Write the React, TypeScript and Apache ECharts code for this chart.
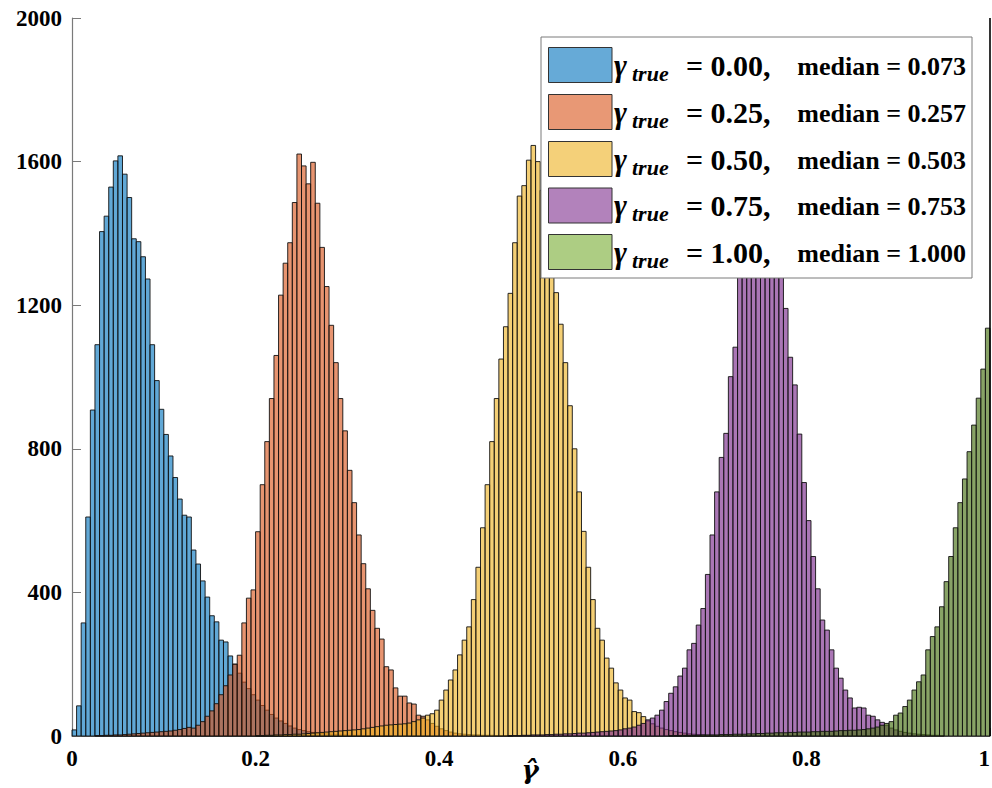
import React, { useEffect, useRef } from 'react';
import * as echarts from 'echarts';

const BIN_WIDTH = 0.005;
const X_MIN = 0;
const X_MAX = 1;
const X_STEP = 0.2;
const Y_MIN = 0;
const Y_MAX = 2000;
const Y_STEP = 400;
const X_AXIS_TITLE = 'γ̂';

const gammaTrue = ['0.00', '0.25', '0.50', '0.75', '1.00'];
const medians = ['0.073', '0.257', '0.503', '0.753', '1.000'];

// index of first bin (bin k spans [k*0.005, (k+1)*0.005])
const blueStart = 0;
const blueCounts = [
  17, 84, 315, 610, 908,
  1090, 1405, 1448, 1529, 1602,
  1616, 1565, 1500, 1385, 1377,
  1335, 1273, 1090, 990, 910,
  840, 780, 720, 660, 615,
  610, 518, 479, 432, 387,
  335, 318, 267, 262, 223,
  200, 175, 150, 132, 115,
  100, 85, 72, 60, 50,
  42, 35, 28, 22, 18,
  15, 12, 10, 8, 7,
  6, 5, 4, 3, 3,
  2, 2, 2, 1, 1,
  1, 1, 1, 1, 1,
];

const orangeStart = 5;
const orangeCounts = [
  1, 1, 2, 2, 3,
  3, 4, 5, 6, 7,
  8, 9, 10, 11, 12,
  13, 14, 16, 18, 21,
  24, 22, 30, 40, 55,
  70, 90, 115, 140, 170,
  200, 225, 315, 384, 407,
  569, 700, 820, 940, 1060,
  1228, 1317, 1374, 1486, 1621,
  1588, 1538, 1598, 1484, 1361,
  1252, 1144, 1040, 940, 850,
  740, 650, 560, 480, 410,
  350, 300, 270, 193, 184,
  134, 111, 111, 92, 89,
  58, 55, 45, 35, 27,
  20, 15, 11, 8, 6,
  5, 4, 3, 3, 2,
  2, 2, 1, 1, 1, 1,
];

const yellowStart = 40;
const yellowCounts = [
  1, 1, 2, 2, 3,
  3, 4, 4, 5, 5,
  6, 7, 8, 9, 10,
  11, 12, 13, 14, 15,
  16, 17, 18, 20, 22,
  24, 26, 28, 30, 31,
  32, 33, 34, 36, 40,
  45, 50, 58, 62, 72,
  100, 128, 156, 184, 226,
  267, 304, 380, 470, 580,
  700, 820, 940, 1050, 1140,
  1233, 1374, 1504, 1533, 1604,
  1645, 1600, 1520, 1430, 1330,
  1235, 1147, 1040, 920, 800,
  680, 570, 470, 380, 300,
  267, 217, 189, 148, 128,
  106, 100, 68, 65, 54,
  42, 34, 27, 22, 18,
  15, 12, 10, 8, 6,
  5, 4, 3, 2, 2,
  1,
];

const purpleStart = 95;
const purpleCounts = [
  1, 1, 1, 2, 2,
  3, 3, 3, 4, 4,
  5, 5, 6, 6, 7,
  8, 8, 9, 10, 11,
  12, 13, 14, 15, 17,
  20, 22, 25, 30, 35,
  45, 50, 58, 72, 96,
  119, 137, 167, 189, 240,
  258, 309, 355, 450, 560,
  680, 776, 843, 1001, 1083,
  1300, 1420, 1500, 1560, 1610,
  1640, 1600, 1540, 1460, 1330,
  1191, 1055, 978, 841, 706,
  600, 500, 410, 323, 295,
  240, 189, 161, 128, 106,
  78, 80, 78, 58, 55,
  45, 38, 30, 22, 17,
  13, 10, 8, 6, 5,
  4, 3, 2, 2, 1,
];

const greenStart = 130;
const greenCounts = [
  1, 1, 1, 2, 2,
  2, 2, 3, 3, 3,
  3, 4, 4, 4, 5,
  5, 5, 6, 6, 7,
  7, 8, 8, 9, 9,
  9, 10, 10, 11, 11,
  11, 12, 12, 13, 13,
  13, 14, 15, 15, 16,
  16, 17, 18, 20, 22,
  25, 30, 35, 40, 58,
  64, 82, 100, 128, 151,
  170, 240, 277, 304, 360,
  430, 500, 580, 650, 716,
  792, 866, 941, 1022, 1136,
  2600,
];

const seriesStarts = [blueStart, orangeStart, yellowStart, purpleStart, greenStart];
const seriesCounts = [blueCounts, orangeCounts, yellowCounts, purpleCounts, greenCounts];
// fill colours of the bars in the plot
const barColors = [
  'rgba(0,114,189,0.62)',
  'rgba(217,83,25,0.62)',
  'rgba(237,177,32,0.62)',
  'rgba(126,47,142,0.66)',
  'rgba(80,120,30,0.68)',
];
// fill colours of the legend swatches
const swatchColors = [
  'rgba(0,114,189,0.6)',
  'rgba(217,83,25,0.6)',
  'rgba(237,177,32,0.6)',
  'rgba(126,47,142,0.6)',
  'rgba(119,172,48,0.6)',
];

const SERIF = '"Liberation Serif", "Times New Roman", serif';
const MATH = '"DejaVu Serif", "Liberation Serif", serif';

function buildBins(start: number, counts: number[]) {
  return counts.map((c, i) => {
    const k = start + i;
    return [
      Math.round(k * BIN_WIDTH * 1e6) / 1e6,
      Math.round((k + 1) * BIN_WIDTH * 1e6) / 1e6,
      c,
    ];
  });
}

function makeRenderItem(color: string) {
  return (params: any, api: any) => {
    const x0 = api.value(0);
    const x1 = api.value(1);
    const v = api.value(2);
    const pBase = api.coord([x0, 0]);
    const pTop = api.coord([x1, v]);
    const cs = params.coordSys;
    const left = Math.max(pBase[0], cs.x);
    const right = Math.min(pTop[0], cs.x + cs.width);
    const top = Math.max(pTop[1], cs.y);
    const bottom = pBase[1];
    if (right < left - 0.01) return null;
    if (right - left < 0.5) {
      return {
        type: 'line',
        shape: { x1: left, y1: top, x2: left, y2: bottom },
        style: { stroke: '#000', lineWidth: 1.6 },
      };
    }
    return {
      type: 'rect',
      shape: { x: left, y: top, width: right - left, height: bottom - top },
      style: { fill: color, stroke: '#111', lineWidth: 0.9 },
    };
  };
}

export default function App() {
  const ref = useRef<HTMLDivElement>(null);

  useEffect(() => {
    if (!ref.current) return;
    const chart = echarts.init(ref.current, null, { renderer: 'svg' });

    const series = seriesCounts.map((counts, idx) => ({
      type: 'custom',
      name: `γtrue = ${gammaTrue[idx]}, median = ${medians[idx]}`,
      renderItem: makeRenderItem(barColors[idx]),
      data: buildBins(seriesStarts[idx], counts),
      encode: { x: [0, 1], y: 2 },
      z: 2 + idx,
      silent: true,
    }));

    const Z = 100;
    const rowCenters = [65, 112, 159, 205.5, 252];
    const graphics: any[] = [
      {
        type: 'rect',
        z: Z,
        shape: { x: 541, y: 37, width: 431, height: 241 },
        style: { fill: '#fff', stroke: '#7a7a7a', lineWidth: 1 },
      },
    ];
    rowCenters.forEach((cy, i) => {
      graphics.push({
        type: 'rect',
        z: Z + 1,
        shape: { x: 548.5, y: cy - 17.5, width: 63.5, height: 35 },
        style: { fill: swatchColors[i], stroke: '#333', lineWidth: 1 },
      });
      graphics.push({
        type: 'text',
        z: Z + 1,
        x: 614,
        y: cy,
        style: {
          text: 'γ',
          font: `italic bold 31px ${SERIF}`,
          fill: '#000',
          verticalAlign: 'middle',
          align: 'left',
        },
      });
      graphics.push({
        type: 'text',
        z: Z + 1,
        x: 632,
        y: cy + 8,
        style: {
          text: 'true',
          font: `italic bold 22px ${SERIF}`,
          fill: '#000',
          verticalAlign: 'middle',
          align: 'left',
        },
      });
      graphics.push({
        type: 'text',
        z: Z + 1,
        x: 686,
        y: cy,
        style: {
          text: `= ${gammaTrue[i]},`,
          font: `bold 30px ${SERIF}`,
          fill: '#000',
          verticalAlign: 'middle',
          align: 'left',
        },
      });
      graphics.push({
        type: 'text',
        z: Z + 1,
        x: 966,
        y: cy + 1,
        style: {
          text: `median = ${medians[i]}`,
          font: `bold 26px ${SERIF}`,
          fill: '#000',
          verticalAlign: 'middle',
          align: 'right',
        },
      });
    });
    graphics.push({
      type: 'text',
      z: Z,
      x: 530,
      y: 770,
      style: {
        text: X_AXIS_TITLE,
        font: `italic bold 26px ${MATH}`,
        fill: '#000',
        verticalAlign: 'middle',
        align: 'center',
      },
    });

    const option: any = {
      animation: false,
      backgroundColor: '#fff',
      grid: {
        left: 72,
        right: 2,
        top: 18,
        bottom: 52,
        containLabel: false,
        outerBoundsMode: 'none',
      },
      xAxis: {
        type: 'value',
        min: X_MIN,
        max: X_MAX,
        interval: X_STEP,
        axisLine: { show: true, lineStyle: { color: '#666', width: 1 } },
        axisTick: { show: true, inside: true, length: 8, lineStyle: { color: '#666' } },
        axisLabel: {
          fontFamily: SERIF,
          fontWeight: 'bold',
          fontSize: 23,
          color: '#000',
          margin: 11,
          alignMaxLabel: 'right',
          formatter: (v: number) => String(Math.round(v * 10) / 10),
        },
        splitLine: { show: false },
      },
      yAxis: {
        type: 'value',
        min: Y_MIN,
        max: Y_MAX,
        interval: Y_STEP,
        axisLine: { show: true, lineStyle: { color: '#7a7a7a', width: 1.2 } },
        axisTick: { show: true, inside: true, length: 9, lineStyle: { color: '#7a7a7a' } },
        axisLabel: {
          fontFamily: SERIF,
          fontWeight: 'bold',
          fontSize: 23,
          color: '#000',
          margin: 10,
          formatter: (v: number) => String(v),
        },
        splitLine: { show: false },
      },
      series,
      graphic: graphics,
    };

    chart.setOption(option);
    return () => chart.dispose();
  }, []);

  return (
    <div
      ref={ref}
      style={{ position: 'absolute', left: 0, top: 0, width: 992, height: 788 }}
    />
  );
}
